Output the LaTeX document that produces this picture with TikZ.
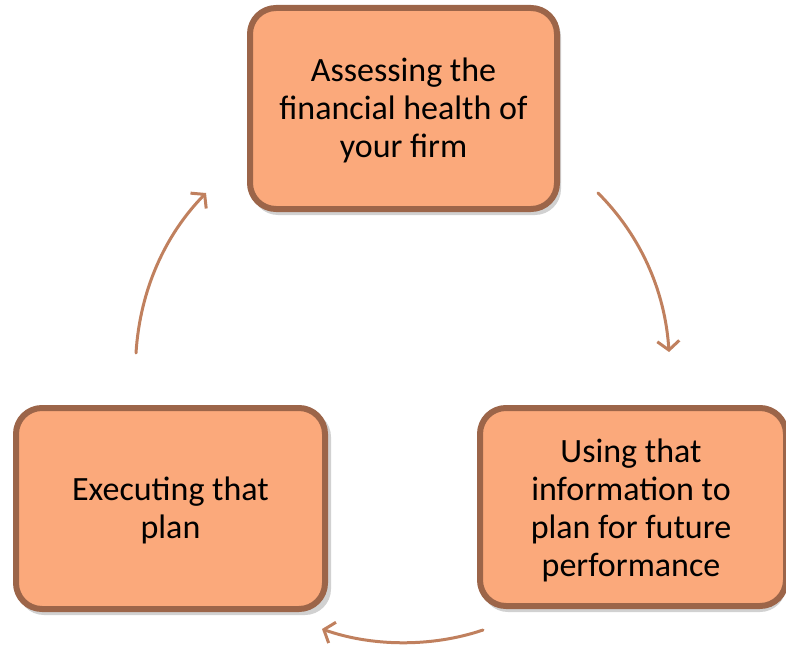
\documentclass[tikz,border=0pt]{standalone}
\usepackage{fontspec}
\setmainfont{Carlito}
\usetikzlibrary{arrows.meta}
\definecolor{boxfill}{RGB}{251,169,123}
\definecolor{boxline}{RGB}{156,101,73}
\definecolor{arrowcol}{RGB}{192,128,94}
\tikzset{
  stepbox/.style={draw=boxline, line width=6pt, fill=boxfill, rounded corners=26pt},
  shadowbox/.style={fill=black, opacity=0.18, rounded corners=26pt},
  boxtext/.style={align=center, font=\fontsize{34}{38}\selectfont, text=black, inner sep=0pt},
  cyc/.style={draw=arrowcol, line width=3pt, line cap=round, -{Straight Barb[length=9pt,width=22pt,line width=3pt]}}
}
\begin{document}
\begin{tikzpicture}[x=1pt,y=-1pt]
\useasboundingbox (0,0) rectangle (786,647);
% shadows
\fill[shadowbox] (252,11) rectangle (561,215);
\fill[shadowbox] (18,411) rectangle (331,615);
\fill[shadowbox] (482,411) rectangle (786,612);
% boxes
\draw[stepbox] (250,8) rectangle (557,209);
\draw[stepbox] (16,408) rectangle (325,609);
\draw[stepbox] (480,408) rectangle (786,606);
\node[boxtext] (top) at (403.5,110) {Assessing the\\financial health of\\your firm};
\node[boxtext] (left) at (170.5,510.5) {Executing that\\plan};
\node[boxtext] (right) at (631,510.5) {Using that\\information to\\plan for future\\performance};
% arrows
\coordinate (a1s) at (598,193);
\coordinate (a1e) at (669,352);
\coordinate (a2s) at (483,630);
\coordinate (a2e) at (322,629);
\coordinate (a3s) at (136,353);
\coordinate (a3e) at (206,193);
\draw[cyc] (a1s) .. controls (640,235) and (665,290) .. (a1e);
\draw[cyc] (a2s) .. controls (430,648) and (370,646) .. (a2e);
\draw[cyc] (a3s) .. controls (140,290) and (165,235) .. (a3e);
\end{tikzpicture}
\end{document}
